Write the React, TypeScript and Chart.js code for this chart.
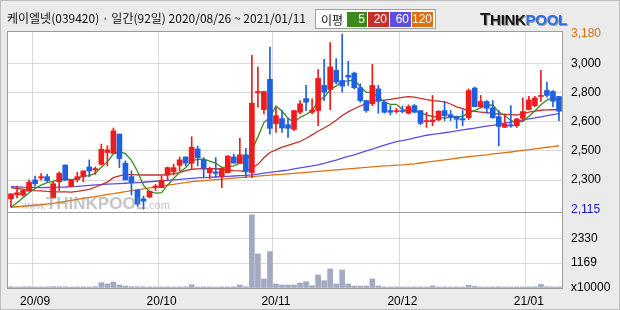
import React, { useEffect, useRef } from "react";
import { Chart, registerables } from "chart.js";
Chart.register(...registerables);

// Trading days (yy/mm/dd)
const dates = [
  "20/08/26","20/08/27","20/08/28","20/08/31",
  "20/09/01","20/09/02","20/09/03","20/09/04","20/09/07","20/09/08","20/09/09","20/09/10","20/09/11","20/09/14","20/09/15","20/09/16","20/09/17","20/09/18","20/09/21","20/09/22","20/09/23","20/09/24","20/09/25","20/09/28","20/09/29",
  "20/10/05","20/10/06","20/10/07","20/10/08","20/10/12","20/10/13","20/10/14","20/10/15","20/10/16","20/10/19","20/10/20","20/10/21","20/10/22","20/10/23","20/10/26","20/10/27","20/10/28","20/10/29","20/10/30",
  "20/11/02","20/11/03","20/11/04","20/11/05","20/11/06","20/11/09","20/11/10","20/11/11","20/11/12","20/11/13","20/11/16","20/11/17","20/11/18","20/11/19","20/11/20","20/11/23","20/11/24","20/11/25","20/11/26","20/11/27","20/11/30",
  "20/12/01","20/12/02","20/12/03","20/12/04","20/12/07","20/12/08","20/12/09","20/12/10","20/12/11","20/12/14","20/12/15","20/12/16","20/12/17","20/12/18","20/12/21","20/12/22","20/12/23","20/12/24","20/12/28","20/12/29","20/12/30",
  "21/01/04","21/01/05","21/01/06","21/01/07","21/01/08","21/01/11"
];

const opens = [2178,2203,2201,2225,2293,2305,2313,2184,2282,2384,2252,2295,2313,2372,2354,2388,2460,2454,2572,2395,2313,2231,2178,2189,2246,2246,2323,2344,2382,2433,2395,2482,2415,2337,2342,2313,2337,2433,2395,2446,2337,2823,2721,2905,2635,2666,2629,2601,2705,2788,2705,2715,2868,2843,2960,2898,2929,2943,2854,2776,2756,2847,2766,2715,2709,2715,2699,2745,2715,2648,2648,2658,2715,2690,2678,2666,2672,2852,2739,2770,2731,2678,2613,2629,2623,2668,2721,2745,2801,2837,2831,2801];
const highs = [2209,2256,2235,2293,2317,2331,2327,2278,2342,2384,2293,2340,2348,2415,2372,2511,2501,2609,2572,2409,2348,2235,2195,2225,2266,2317,2372,2389,2433,2433,2556,2499,2429,2372,2429,2368,2439,2450,2546,2486,3051,2980,2831,3102,2735,2715,2670,2715,2776,2868,2786,2964,3027,3129,3031,3180,3015,2949,2878,2776,2996,2868,2776,2745,2729,2743,2750,2752,2715,2705,2807,2715,2766,2715,2678,2719,2847,2858,2807,2776,2776,2715,2694,2745,2668,2792,2801,2801,2960,2888,2837,2801];
const lows = [2127,2184,2195,2225,2256,2291,2282,2184,2229,2291,2252,2280,2282,2313,2327,2384,2378,2454,2368,2293,2201,2134,2115,2185,2229,2246,2291,2323,2348,2378,2362,2378,2313,2301,2307,2246,2337,2395,2395,2307,2307,2735,2694,2572,2582,2582,2552,2592,2694,2715,2694,2623,2776,2721,2878,2827,2868,2847,2766,2705,2745,2699,2699,2688,2699,2701,2694,2701,2629,2613,2623,2654,2654,2654,2607,2623,2660,2739,2731,2699,2668,2501,2613,2613,2613,2650,2719,2739,2770,2796,2739,2654];
const closes = [2209,2215,2229,2280,2270,2313,2289,2270,2333,2291,2293,2313,2348,2348,2362,2480,2476,2592,2423,2293,2276,2146,2164,2225,2256,2291,2368,2368,2415,2395,2492,2429,2364,2362,2333,2364,2439,2395,2446,2342,2760,2831,2831,2607,2684,2609,2607,2715,2756,2766,2719,2911,2827,2980,2888,2864,2919,2854,2776,2715,2868,2772,2705,2705,2715,2709,2739,2705,2637,2654,2658,2711,2684,2674,2662,2658,2837,2739,2770,2729,2672,2619,2633,2621,2664,2709,2780,2792,2807,2807,2772,2711];

// Volume in units of 10,000 shares
const volumes = [55,48,52,60,45,50,47,62,55,58,44,50,53,47,60,250,188,282,141,94,62,58,55,50,48,45,52,47,50,55,150,45,50,48,44,52,47,55,140,60,3430,1598,423,1706,188,141,141,141,235,296,108,611,343,893,188,846,188,94,94,94,423,94,50,48,52,45,47,55,50,44,100,48,52,46,50,45,130,80,50,47,52,55,48,45,50,47,52,55,170,60,48,52];

// Moving averages (5, 20, 60, 120 days)
const ma5 = [2127,2154,2184,2215,2241,2261,2276,2284,2295,2299,2295,2300,2316,2319,2333,2370,2403,2452,2467,2453,2412,2346,2260,2221,2213,2216,2261,2302,2340,2367,2408,2420,2419,2408,2396,2370,2372,2379,2395,2397,2476,2555,2642,2674,2743,2712,2668,2644,2674,2691,2713,2773,2796,2841,2865,2894,2896,2901,2860,2826,2826,2797,2767,2753,2753,2721,2715,2715,2701,2689,2679,2673,2669,2676,2678,2678,2703,2714,2733,2747,2749,2706,2685,2655,2642,2649,2681,2713,2750,2779,2792,2778];
const ma20 = [2246,2241,2237,2232,2228,2226,2223,2221,2220,2220,2219,2223,2229,2236,2250,2264,2280,2307,2318,2325,2325,2324,2323,2323,2323,2323,2324,2331,2337,2349,2358,2360,2361,2362,2361,2358,2354,2350,2348,2346,2365,2388,2428,2460,2476,2492,2504,2516,2527,2545,2567,2589,2609,2630,2656,2685,2707,2726,2743,2758,2771,2775,2779,2783,2789,2795,2800,2797,2789,2782,2776,2772,2768,2755,2738,2727,2714,2710,2706,2702,2698,2694,2692,2690,2688,2697,2705,2712,2717,2719,2720,2721];
const ma60 = [2252,2251,2249,2248,2247,2246,2247,2248,2249,2250,2252,2254,2257,2260,2263,2265,2267,2269,2271,2273,2275,2277,2279,2282,2285,2288,2291,2294,2297,2300,2303,2305,2307,2309,2311,2313,2315,2317,2319,2321,2324,2329,2334,2339,2344,2349,2353,2360,2366,2372,2378,2385,2394,2404,2414,2425,2436,2446,2458,2470,2481,2493,2505,2516,2526,2532,2540,2549,2557,2565,2570,2575,2580,2585,2591,2597,2603,2608,2614,2620,2625,2632,2638,2645,2651,2658,2664,2670,2677,2684,2691,2697];
const ma120 = [2127,2130,2133,2136,2139,2142,2146,2150,2157,2163,2169,2175,2181,2187,2192,2198,2205,2210,2216,2222,2228,2233,2239,2245,2250,2256,2261,2266,2272,2277,2283,2286,2289,2292,2295,2298,2301,2304,2307,2310,2313,2316,2319,2322,2325,2327,2330,2333,2336,2339,2342,2345,2348,2351,2354,2357,2360,2363,2366,2369,2372,2375,2378,2380,2383,2385,2388,2391,2396,2401,2406,2411,2415,2420,2425,2430,2434,2438,2442,2446,2451,2455,2459,2463,2468,2473,2477,2482,2487,2492,2496,2501];

// Axis ticks
const priceTickValues = [2115, 2292.5, 2470, 2647.5, 2825, 3002.5, 3180];
const priceTickLabels = ["2,115", "2,300", "2,500", "2,600", "2,800", "3,000", "3,180"];
const volTickValues = [0, 1169, 2330];
const volTickLabels = ["x10000", "1169", "2330"];

const maPeriods = ["5", "20", "60", "120"];
const maColors = ["#3a8a1e", "#c4302b", "#5d4fe0", "#e0700e"];

const UP = "#ee1c1c";
const DOWN = "#1f5fe0";
const GRID = "#d9d9d9";
const FRAME = "#9c9c9c";

function monthLabel(i: any): string {
  if (typeof i !== "number" || !Number.isInteger(i) || i <= 0 || i >= dates.length) return "";
  const m = dates[i].slice(0, 5);
  return m !== dates[i - 1].slice(0, 5) ? m : "";
}

export default function App() {
  const ref = useRef<HTMLCanvasElement | null>(null);

  useEffect(() => {
    const canvas = ref.current;
    if (!canvas) return;
    const candleColors = closes.map((c, i) => (c >= opens[i] ? UP : DOWN));
    const tickFont = { family: "'Liberation Sans', Arial, sans-serif", size: 12 };

    const framePlugin = {
      id: "frame",
      beforeDraw(chart: any) {
        const { ctx, chartArea: a } = chart;
        ctx.save();
        ctx.fillStyle = "#ffffff";
        ctx.fillRect(a.left, a.top, a.right - a.left, a.bottom - a.top);
        ctx.restore();
      },
      afterDraw(chart: any) {
        const { ctx, chartArea: a } = chart;
        ctx.save();
        ctx.strokeStyle = FRAME;
        ctx.lineWidth = 1;
        ctx.strokeRect(Math.round(a.left) - 0.5, Math.round(a.top) - 0.5, Math.round(a.right - a.left) + 1, Math.round(a.bottom - a.top) + 1);
        const yDiv = Math.round(chart.scales.yv.top) + 0.5;
        ctx.beginPath();
        ctx.moveTo(a.left, yDiv);
        ctx.lineTo(a.right, yDiv);
        ctx.stroke();
        ctx.restore();
      },
    };

    const maSeries = [ma5, ma20, ma60, ma120];

    const chart = new Chart(canvas, {
      type: "bar",
      data: {
        labels: dates,
        datasets: [
          {
            type: "bar",
            label: "body",
            data: opens.map((o, i) => [o, closes[i]]),
            backgroundColor: candleColors,
            barThickness: 5,
            minBarLength: 1,
            grouped: false,
            yAxisID: "y",
            order: 0,
          } as any,
          {
            type: "bar",
            label: "wick",
            data: lows.map((l, i) => [l, highs[i]]),
            backgroundColor: candleColors,
            barThickness: 1,
            grouped: false,
            yAxisID: "y",
            order: 1,
          } as any,
          ...maSeries.map((s, k) => ({
            type: "line",
            label: "MA" + maPeriods[k],
            data: s,
            borderColor: maColors[k],
            backgroundColor: maColors[k],
            borderWidth: 1.3,
            pointRadius: 0,
            tension: 0,
            yAxisID: "y",
            order: 2 + k,
          } as any)),
          {
            type: "bar",
            label: "volume",
            data: volumes,
            backgroundColor: "#a2aac2",
            barThickness: 5,
            grouped: false,
            yAxisID: "yv",
            order: 8,
          } as any,
        ],
      },
      options: {
        responsive: false,
        animation: false,
        devicePixelRatio: 1,
        layout: { padding: { left: 8, top: 32, right: 0, bottom: 0 } },
        plugins: {
          legend: { display: false },
          tooltip: { enabled: false },
          title: { display: false },
        },
        scales: {
          x: {
            type: "category",
            offset: true,
            grid: {
              offset: true,
              drawTicks: false,
              color: (ctx: any) => (monthLabel(ctx.index) ? GRID : "rgba(0,0,0,0)"),
            },
            border: { display: false },
            ticks: {
              autoSkip: false,
              maxRotation: 0,
              minRotation: 0,
              padding: 6,
              color: "#000",
              font: tickFont,
              callback: (_v: any, i: number) => monthLabel(i),
            },
            afterFit: (s: any) => {
              s.height = 22;
            },
          },
          y: {
            type: "linear",
            position: "right",
            stack: "panes",
            stackWeight: 180,
            min: 2098,
            max: 3193,
            afterBuildTicks: (s: any) => {
              s.ticks = priceTickValues.map((v) => ({ value: v }));
            },
            grid: {
              drawTicks: false,
              color: (ctx: any) =>
                ctx.index === 0 || ctx.index === priceTickValues.length - 1 ? "rgba(0,0,0,0)" : GRID,
            },
            border: { display: false },
            ticks: {
              autoSkip: false,
              padding: 9,
              font: tickFont,
              color: (ctx: any) =>
                ctx.index === 0 ? "#1414c8" : ctx.index === priceTickValues.length - 1 ? "#d4700f" : "#000",
              callback: (_v: any, i: number) => priceTickLabels[i],
            },
            afterFit: (s: any) => {
              s.width = 58;
            },
          },
          yv: {
            type: "linear",
            position: "right",
            stack: "panes",
            stackWeight: 76,
            min: 0,
            max: 3560,
            afterBuildTicks: (s: any) => {
              s.ticks = volTickValues.map((v) => ({ value: v }));
            },
            grid: {
              drawTicks: false,
              color: (ctx: any) => (ctx.index === 0 ? "rgba(0,0,0,0)" : GRID),
            },
            border: { display: false },
            ticks: {
              autoSkip: false,
              padding: 9,
              font: tickFont,
              color: "#000",
              callback: (_v: any, i: number) => volTickLabels[i],
            },
            afterFit: (s: any) => {
              s.width = 58;
            },
          },
        },
      } as any,
      plugins: [framePlugin],
    });
    return () => chart.destroy();
  }, []);

  const cjk = "'Noto Sans CJK KR', 'Noto Sans', sans-serif";

  return (
    <div
      style={{
        position: "absolute",
        left: 0,
        top: 0,
        width: 620,
        height: 310,
        background: "#ebebeb",
        overflow: "hidden",
      }}
    >
      <canvas ref={ref} width={620} height={310} style={{ position: "absolute", left: 0, top: 0, width: 620, height: 310 }} />
      <div
        style={{
          position: "absolute",
          left: 7,
          top: 10,
          fontFamily: cjk,
          fontSize: 12,
          lineHeight: "16px",
          color: "#111",
          whiteSpace: "nowrap",
        }}
      >
        케이엘넷(039420) · 일간(92일) 2020/08/26 ~ 2021/01/11
      </div>
      <div
        style={{
          position: "absolute",
          left: 315,
          top: 9,
          width: 121,
          height: 20,
          boxSizing: "border-box",
          background: "#fff",
          border: "1px solid #a0a0a0",
          display: "flex",
          alignItems: "center",
          fontFamily: cjk,
          fontSize: 12,
          whiteSpace: "nowrap",
        }}
      >
        <span style={{ marginLeft: 5, width: 26, color: "#111" }}>이평</span>
        {maPeriods.map((p, k) => (
          <span
            key={p}
            style={{
              display: "inline-block",
              width: k === 0 ? 20 : 21,
              height: 15,
              lineHeight: "15px",
              marginRight: 1,
              background: maColors[k],
              color: "#fff",
              textAlign: "right",
              paddingRight: 2,
              boxSizing: "border-box",
              fontFamily: "'Liberation Sans', Arial, sans-serif",
            }}
          >
            {p}
          </span>
        ))}
      </div>
      <div
        style={{
          position: "absolute",
          left: 480,
          top: 11,
          fontFamily: "'Liberation Sans', Arial, sans-serif",
          fontWeight: 900,
          fontSize: 15,
          lineHeight: "18px",
          letterSpacing: -0.3,
          whiteSpace: "nowrap",
          textShadow: "1px 1px 0 #9a9a9a",
        }}
      >
        <span style={{ color: "#141414", fontSize: 17 }}>T</span>
        <span style={{ color: "#141414" }}>HINK</span>
        <span style={{ color: "#2d6ee6" }}>POOL</span>
      </div>
      <div
        style={{
          position: "absolute",
          left: 22,
          top: 194,
          fontFamily: "'Liberation Sans', Arial, sans-serif",
          color: "rgba(140,140,140,0.5)",
          whiteSpace: "nowrap",
          pointerEvents: "none",
        }}
      >
        <span style={{ fontSize: 10 }}>www.</span>
        <span style={{ fontSize: 17, fontWeight: 900 }}>THINKPOOL</span>
        <span style={{ fontSize: 11 }}>.com</span>
      </div>
      <div
        style={{
          position: "absolute",
          left: 0,
          top: 0,
          width: 620,
          height: 310,
          boxSizing: "border-box",
          border: "1px solid #bdbdbd",
          pointerEvents: "none",
        }}
      />
    </div>
  );
}
